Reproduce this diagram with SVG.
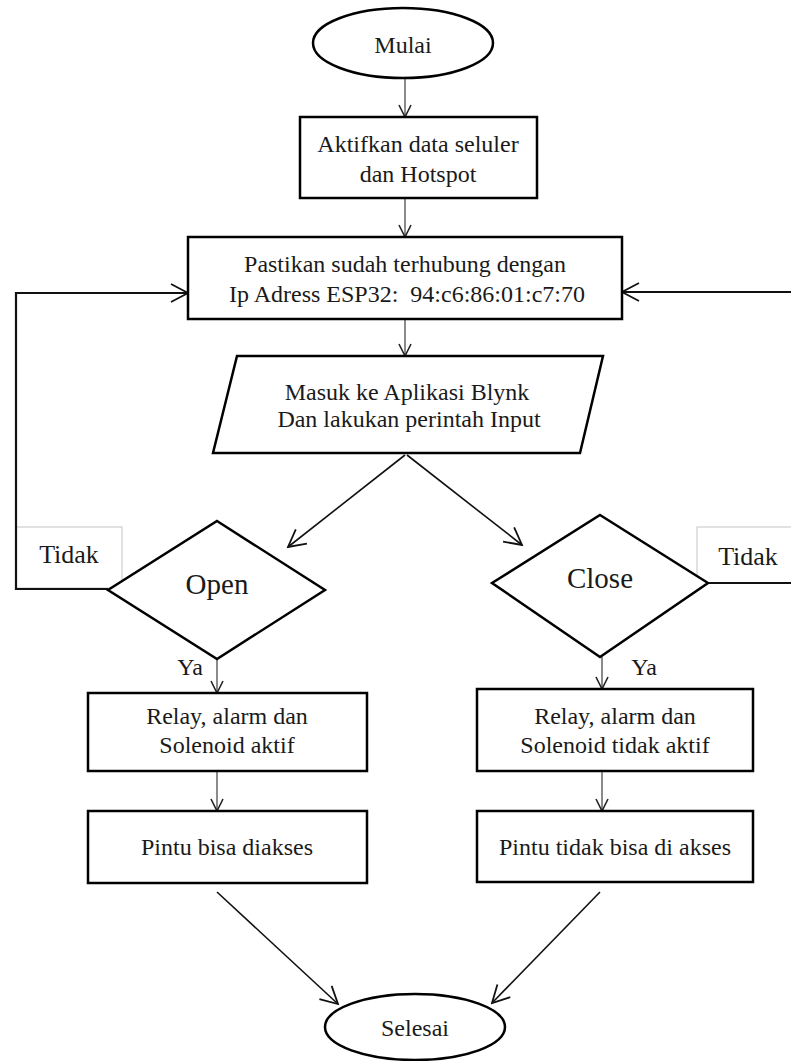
<svg xmlns="http://www.w3.org/2000/svg" width="791" height="1061" viewBox="0 0 791 1061">
  <style>
    .shape { fill: #ffffff; stroke: #000000; stroke-width: 2.5; }
    .label { font-family: "Liberation Serif", "Times New Roman", serif; font-size: 24px; fill: #1a1a1a; text-anchor: middle; }
    .big { font-size: 29px; }
    .tag { font-size: 26px; }
    .flow { fill: none; stroke: #6e6e6e; stroke-width: 1.6; marker-end: url(#vsmall); }
    .link { fill: none; stroke: #111111; stroke-width: 1.6; marker-end: url(#vbig); }
    .loop { fill: none; stroke: #111111; stroke-width: 2.2; }
    .tagbox { fill: #ffffff; stroke: #c4c4c4; stroke-width: 1; }
  </style>
  <defs>
    <marker id="vsmall" markerUnits="userSpaceOnUse" viewBox="-1 -8 15 16" refX="12" refY="0" markerWidth="15" markerHeight="16" orient="auto">
      <path d="M0,-6 L12,0 L0,6" fill="none" stroke="#222222" stroke-width="1.6"/>
    </marker>
    <marker id="vbig" markerUnits="userSpaceOnUse" viewBox="-1 -12 20 24" refX="17" refY="0" markerWidth="20" markerHeight="24" orient="auto">
      <path d="M0,-9 L17,0 L0,9" fill="none" stroke="#111111" stroke-width="1.8"/>
    </marker>
  </defs>

  <rect width="791" height="1061" fill="#ffffff"/>

  <!-- "Tidak" label frames, drawn under the loop lines -->
  <g id="tag-left">
    <rect class="tagbox" x="16" y="527" width="106" height="61"/>
    <text class="label tag" x="69" y="563">Tidak</text>
  </g>
  <g id="tag-right">
    <rect class="tagbox" x="697" y="527" width="100" height="56"/>
    <text class="label tag" x="748" y="565">Tidak</text>
  </g>

  <g id="connectors">
    <line class="flow" x1="405" y1="78" x2="405" y2="117"/>
    <line class="flow" x1="405" y1="198" x2="405" y2="237"/>
    <line class="flow" x1="405" y1="319" x2="405" y2="356"/>
    <line class="link" x1="405" y1="455" x2="288" y2="547"/>
    <line class="link" x1="407" y1="455" x2="522" y2="545"/>
    <line class="flow" x1="217" y1="660" x2="217" y2="693"/>
    <line class="flow" x1="602" y1="657" x2="602" y2="689"/>
    <line class="flow" x1="217" y1="771" x2="217" y2="811"/>
    <line class="flow" x1="602" y1="771" x2="602" y2="811"/>
    <line class="link" x1="217" y1="892" x2="338" y2="1004"/>
    <line class="link" x1="600" y1="892" x2="492" y2="1003"/>
    <!-- "Tidak" loops back to the connection check -->
    <polyline class="loop" points="108,589 16,589 16,293 188,293" marker-end="url(#vbig)"/>
    <polyline class="loop" points="708,583 794,583 794,292 622,292" marker-end="url(#vbig)"/>
    <text class="label" x="190" y="675">Ya</text>
    <text class="label" x="644" y="675">Ya</text>
  </g>

  <g id="start">
    <ellipse class="shape" cx="403" cy="43" rx="90" ry="35"/>
    <text class="label" x="403" y="53">Mulai</text>
  </g>

  <g id="enable-data">
    <rect class="shape" x="300" y="117" width="237" height="81"/>
    <text class="label" x="418" y="152">Aktifkan data seluler</text>
    <text class="label" x="418" y="182">dan Hotspot</text>
  </g>

  <g id="check-connection">
    <rect class="shape" x="188" y="237" width="434" height="82"/>
    <text class="label" x="405" y="272">Pastikan sudah terhubung dengan</text>
    <text class="label" x="407" y="302" xml:space="preserve">Ip Adress ESP32:  94:c6:86:01:c7:70</text>
  </g>

  <g id="blynk-input">
    <polygon class="shape" points="237,356 603,356 580,453 213,453"/>
    <text class="label" x="407" y="400">Masuk ke Aplikasi Blynk</text>
    <text class="label" x="409" y="427">Dan lakukan perintah Input</text>
  </g>

  <g id="decision-open">
    <polygon class="shape" points="217,521 325,590 217,659 108,590"/>
    <text class="label big" x="217" y="594">Open</text>
  </g>

  <g id="decision-close">
    <polygon class="shape" points="600,515 708,583 600,657 492,583"/>
    <text class="label big" x="600" y="588">Close</text>
  </g>

  <g id="relay-on">
    <rect class="shape" x="88" y="693" width="279" height="78"/>
    <text class="label" x="227" y="724">Relay, alarm dan</text>
    <text class="label" x="227" y="753">Solenoid aktif</text>
  </g>

  <g id="relay-off">
    <rect class="shape" x="477" y="689" width="276" height="82"/>
    <text class="label" x="615" y="724">Relay, alarm dan</text>
    <text class="label" x="615" y="753">Solenoid tidak aktif</text>
  </g>

  <g id="door-open">
    <rect class="shape" x="88" y="811" width="279" height="72"/>
    <text class="label" x="227" y="855">Pintu bisa diakses</text>
  </g>

  <g id="door-closed">
    <rect class="shape" x="477" y="811" width="276" height="71"/>
    <text class="label" x="615" y="855">Pintu tidak bisa di akses</text>
  </g>

  <g id="end">
    <ellipse class="shape" cx="415" cy="1027" rx="90" ry="33"/>
    <text class="label" x="415" y="1036">Selesai</text>
  </g>
</svg>
